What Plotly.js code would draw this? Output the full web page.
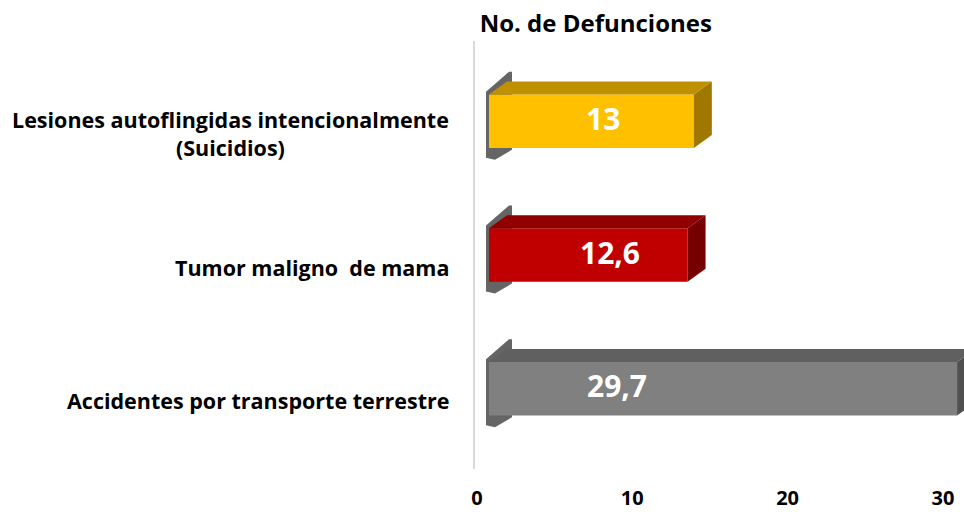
<!DOCTYPE html>
<html>
<head>
<meta charset="utf-8">
<script src="https://cdn.plot.ly/plotly-3.0.1.min.js"></script>
<style>html,body{margin:0;padding:0;background:#fff;}#chart{width:964px;height:512px;}</style>
</head>
<body>
<div id="chart"></div>
<script>
// Data (top to bottom as shown in chart)
const categories = ["Lesiones autoflingidas intencionalmente<br>(Suicidios)", "Tumor maligno  de mama", "Accidentes por transporte terrestre"];
const values = [13, 12.6, 29.7];
const frontColors = ["#FFC000", "#C00000", "#808080"];
const topColors = ["#BF9000", "#900000", "#606060"];
const sideColors = ["#A07800", "#760000", "#505050"];
const tickValues = [0, 10, 20, 30];
const tickLabels = ["0", "10", "20", "30"];
const chartTitle = "No. de Defunciones";

// Style constants for the 3D look
const HALF = 0.2;      // half bar thickness (y units)
const DX = 1.14;       // depth offset in x units
const DY = 0.097;      // depth offset in y units
const n = categories.length;
const yPos = categories.map((c, i) => n - 1 - i);
const FONT = "'Open Sans', sans-serif";
const BAR_RANGE = [-0.888, 30.14];

const traces = [];
// shadows on the back wall (base subplot, drawn below the bars)
values.forEach((v, i) => {
  const c = yPos[i];
  traces.push({
    type: "scatter", mode: "lines", fill: "toself", hoverinfo: "skip", showlegend: false,
    x: [-0.19, -0.19, 1.27, 1.46, 1.46, 0.38, -0.19],
    y: [c - 0.273, c + 0.221, c + 0.371, c + 0.371, c - 0.213, c - 0.288, c - 0.273],
    line: {width: 0}, fillcolor: "rgba(50,50,50,0.75)"
  });
});
// front faces (bars) on the overlaying subplot
traces.push({
  type: "bar", orientation: "h", x: values, y: yPos, width: HALF * 2, xaxis: "x3",
  marker: {color: frontColors, line: {width: 0}}, hoverinfo: "skip", showlegend: false
});
// top and side faces
values.forEach((v, i) => {
  const c = yPos[i];
  traces.push({
    type: "scatter", mode: "lines", fill: "toself", hoverinfo: "skip", showlegend: false, xaxis: "x3",
    x: [0, DX, v + DX, v, 0],
    y: [c + HALF, c + HALF + DY, c + HALF + DY, c + HALF, c + HALF],
    line: {width: 0}, fillcolor: topColors[i]
  });
  traces.push({
    type: "scatter", mode: "lines", fill: "toself", hoverinfo: "skip", showlegend: false, xaxis: "x3",
    x: [v, v + DX, v + DX, v, v],
    y: [c + HALF, c + HALF + DY, c - HALF + DY, c - HALF, c + HALF],
    line: {width: 0}, fillcolor: sideColors[i]
  });
});
// invisible trace on the tick axis
traces.push({
  type: "scatter", mode: "markers", x: [0, 30], y: [0, 0], xaxis: "x2",
  marker: {opacity: 0}, hoverinfo: "skip", showlegend: false
});

const labelX = [0.262, 0.276, 0.290];
const annotations = [];
values.forEach((v, i) => {
  annotations.push({
    xref: "paper", yref: "y", x: labelX[i], y: yPos[i], yshift: 3,
    text: String(v).replace(".", ","), showarrow: false,
    xanchor: "center", yanchor: "middle",
    font: {family: FONT, size: 30, color: "#ffffff", weight: "bold"}
  });
  annotations.push({
    xref: "paper", yref: "y", x: -0.049, y: yPos[i], yshift: -12,
    text: categories[i], showarrow: false, align: "center",
    xanchor: "right", yanchor: "middle",
    font: {family: FONT, size: 21.5, color: "#000000", weight: "bold"}
  });
});

const layout = {
  width: 964, height: 512,
  margin: {l: 475, r: 0, t: 41, b: 43},
  paper_bgcolor: "#ffffff", plot_bgcolor: "rgba(0,0,0,0)",
  title: {text: chartTitle, x: 0.247, xref: "paper", xanchor: "center",
          y: 1 - 24 / 512, yref: "container", yanchor: "middle",
          font: {family: FONT, size: 24, color: "#000000", weight: "bold"}},
  xaxis: {range: BAR_RANGE, showgrid: false, zeroline: false, showticklabels: false,
          showline: false, ticks: ""},
  xaxis3: {range: BAR_RANGE, overlaying: "x", showgrid: false, zeroline: false,
           showticklabels: false, showline: false, ticks: ""},
  xaxis2: {range: [-0.129, 31.36], overlaying: "x", side: "bottom", showgrid: false,
           zeroline: false, showline: false, tickmode: "array", tickvals: tickValues,
           ticktext: tickLabels, ticks: "", ticklabelstandoff: 15,
           tickfont: {family: FONT, size: 20, color: "#000000", weight: "bold"}},
  yaxis: {range: [-0.6, 2.6], showgrid: false, zeroline: false, showticklabels: false,
          showline: true, linecolor: "#d9d9d9", linewidth: 2, ticks: ""},
  annotations: annotations,
  showlegend: false
};

Plotly.newPlot("chart", traces, layout, {staticPlot: true, displayModeBar: false});
</script>
</body>
</html>
